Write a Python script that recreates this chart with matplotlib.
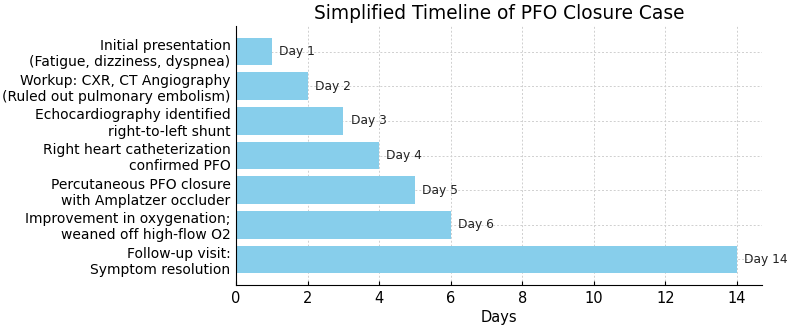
import matplotlib
matplotlib.use("Agg")
import matplotlib.pyplot as plt

events = [
    "Initial presentation\n(Fatigue, dizziness, dyspnea)",
    "Workup: CXR, CT Angiography\n(Ruled out pulmonary embolism)",
    "Echocardiography identified\nright-to-left shunt",
    "Right heart catheterization\nconfirmed PFO",
    "Percutaneous PFO closure\nwith Amplatzer occluder",
    "Improvement in oxygenation;\nweaned off high-flow O2",
    "Follow-up visit:\nSymptom resolution",
]
days = [1, 2, 3, 4, 5, 6, 14]
day_labels = ["Day 1", "Day 2", "Day 3", "Day 4", "Day 5", "Day 6", "Day 14"]

fig = plt.figure(figsize=(7.87, 3.25), dpi=100)
ax = fig.add_axes([0.30, 0.123, 0.668, 0.797])

bars = ax.barh(events, days, color="skyblue", height=0.8, zorder=2)
ax.invert_yaxis()
for b, lab in zip(bars, day_labels):
    ax.text(b.get_width() + 0.2, b.get_y() + b.get_height() / 2, lab,
            va="center", ha="left", fontsize=8.8, color="#222222")

ax.set_xticks(range(0, 15, 2))
ax.set_xlabel("Days", fontsize=10.5, labelpad=3)
ax.set_title("Simplified Timeline of PFO Closure Case", fontsize=13.4, pad=5)
ax.grid(True, linestyle=(0, (2, 2)), color="#cfcfcf", linewidth=0.7, zorder=0)
ax.set_axisbelow(True)
ax.spines["top"].set_visible(False)
ax.spines["right"].set_visible(False)
ax.tick_params(axis="y", direction="in", length=3, labelsize=10, pad=4)
ax.tick_params(axis="x", direction="in", length=3, labelsize=10.5, pad=4)

fig.savefig("out.png", dpi=100)
